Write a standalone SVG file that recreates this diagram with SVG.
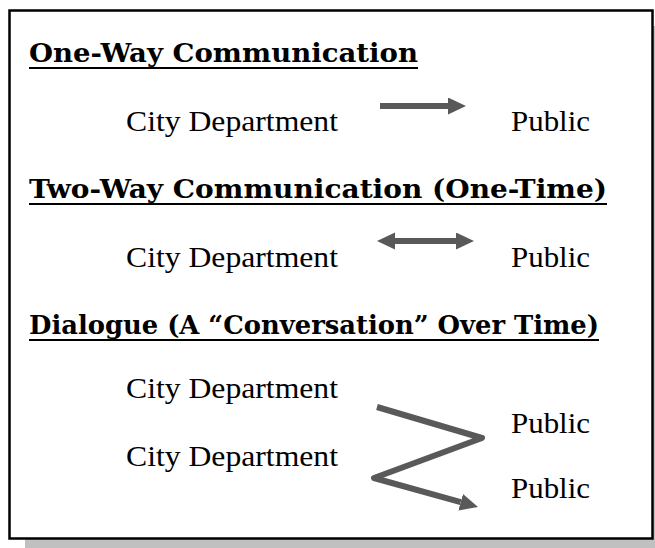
<svg xmlns="http://www.w3.org/2000/svg" width="655" height="548" viewBox="0 0 655 548">
  <defs>
    <style>
      .head { font-family: "DejaVu Serif", "Liberation Serif", serif; font-weight: bold; font-size: 26px; fill: #000; }
      .body { font-family: "Liberation Serif", "DejaVu Serif", serif; font-size: 30px; fill: #000; }
      .rule { stroke: #000; stroke-width: 2; }
      .conn { stroke: #595959; stroke-width: 6; fill: none; stroke-linejoin: round; }
    </style>
    <marker id="tip" markerUnits="userSpaceOnUse" markerWidth="18" markerHeight="18" refX="0" refY="8.5" orient="auto-start-reverse">
      <path d="M0,0 L18,8.5 L0,17 Z" fill="#595959"/>
    </marker>
  </defs>

  <rect width="655" height="548" fill="#fff"/>

  <!-- frame with drop shadow -->
  <rect x="25" y="26" width="644" height="528" fill="#c0c0c0"/>
  <rect x="9.5" y="10.5" width="643" height="528" fill="#fff" stroke="#000" stroke-width="2.5"/>

  <!-- section headings -->
  <g id="heading-one-way">
    <text class="head" x="29" y="62" textLength="389" lengthAdjust="spacingAndGlyphs">One-Way Communication</text>
    <line class="rule" x1="29" y1="68" x2="418" y2="68"/>
  </g>
  <g id="heading-two-way">
    <text class="head" x="29" y="198" textLength="578" lengthAdjust="spacingAndGlyphs">Two-Way Communication (One-Time)</text>
    <line class="rule" x1="29" y1="204" x2="607" y2="204"/>
  </g>
  <g id="heading-dialogue">
    <text class="head" x="29" y="334" textLength="570" lengthAdjust="spacingAndGlyphs">Dialogue (A “Conversation” Over Time)</text>
    <line class="rule" x1="29" y1="340" x2="599" y2="340"/>
  </g>

  <!-- parties -->
  <g id="dept-1"><text class="body" x="126" y="131" textLength="212" lengthAdjust="spacingAndGlyphs">City Department</text></g>
  <g id="public-1"><text class="body" x="511" y="131" textLength="79" lengthAdjust="spacingAndGlyphs">Public</text></g>
  <g id="dept-2"><text class="body" x="126" y="267" textLength="212" lengthAdjust="spacingAndGlyphs">City Department</text></g>
  <g id="public-2"><text class="body" x="511" y="267" textLength="79" lengthAdjust="spacingAndGlyphs">Public</text></g>
  <g id="dept-3a"><text class="body" x="126" y="398" textLength="212" lengthAdjust="spacingAndGlyphs">City Department</text></g>
  <g id="public-3a"><text class="body" x="511" y="433" textLength="79" lengthAdjust="spacingAndGlyphs">Public</text></g>
  <g id="dept-3b"><text class="body" x="126" y="466" textLength="212" lengthAdjust="spacingAndGlyphs">City Department</text></g>
  <g id="public-3b"><text class="body" x="511" y="498" textLength="79" lengthAdjust="spacingAndGlyphs">Public</text></g>

  <!-- connectors -->
  <g id="connectors">
    <line class="conn" x1="380" y1="106" x2="448" y2="106" marker-end="url(#tip)"/>
    <line class="conn" x1="395" y1="241" x2="456" y2="241" marker-start="url(#tip)" marker-end="url(#tip)"/>
    <polyline class="conn" points="377,407 482,438 374,478 460.7,502.2" marker-end="url(#tip)"/>
  </g>
</svg>
